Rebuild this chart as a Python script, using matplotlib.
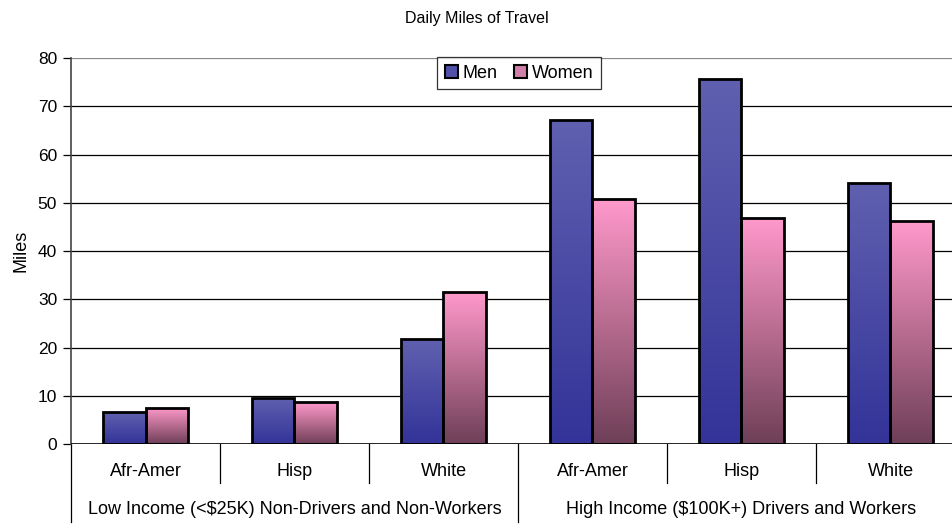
import matplotlib
matplotlib.use("Agg")
import matplotlib.pyplot as plt
import numpy as np
from matplotlib.colors import LinearSegmentedColormap
from matplotlib.lines import Line2D
from matplotlib.patches import Rectangle

plt.rcParams['font.family'] = ['Liberation Sans', 'DejaVu Sans']

title = "Daily Miles of Travel"
categories = ["Afr-Amer", "Hisp", "White", "Afr-Amer", "Hisp", "White"]
groups = ["Low Income (<$25K) Non-Drivers and Non-Workers",
          "High Income ($100K+) Drivers and Workers"]
men = [6.6, 9.5, 21.7, 67.1, 75.6, 54.0]
women = [7.5, 8.7, 31.5, 50.7, 46.8, 46.2]
series_names = ["Men", "Women"]
yticks = [0, 10, 20, 30, 40, 50, 60, 70, 80]

W, H = 953, 526
fig = plt.figure(figsize=(W / 100, H / 100), dpi=100)
left, right, top, bottom = 71, 965, 58, 444
ax = fig.add_axes([left / W, 1 - bottom / H, (right - left) / W, (bottom - top) / H])

n = len(categories)

men_cmap = LinearSegmentedColormap.from_list("m", ["#333399", "#6060b0"])
women_cmap = LinearSegmentedColormap.from_list("w", ["#6e3f58", "#b86c90", "#ff99cc"])

bw = 0.285
grad = np.linspace(0, 1, 256).reshape(-1, 1)
for i in range(n):
    for off, val, cmap in [(-bw, men[i], men_cmap), (0, women[i], women_cmap)]:
        x0 = i + 0.5 + off
        rect = Rectangle((x0, 0), bw, val, facecolor='none', edgecolor='black',
                         linewidth=2, zorder=4)
        ax.add_patch(rect)
        im = ax.imshow(grad, extent=(x0, x0 + bw, 0, val), origin='lower',
                       cmap=cmap, aspect='auto', zorder=3, interpolation='bilinear')
        im.set_clip_path(rect)

ax.set_xlim(0, n)
ax.set_ylim(0, 80)

for y in yticks[1:]:
    ax.axhline(y, color='black' if y < 80 else '#888888', linewidth=0.9, zorder=1)

for s in ['top', 'right', 'bottom']:
    ax.spines[s].set_visible(False)
ax.spines['left'].set_linewidth(1.2)
ax.spines['left'].set_color('#444444')
ax.axhline(0, color='black', linewidth=1.2, zorder=5)

ax.set_yticks(yticks)
ax.tick_params(axis='y', labelsize=12.5, length=6, width=0.9, pad=4)
ax.set_xticks([])
ax.set_ylabel("Miles", fontsize=13, labelpad=6)

# Two-level category axis
trans = ax.get_xaxis_transform()
px = 1.0 / (bottom - top)
for i in range(n):
    ax.text(i + 0.5, -(472 - bottom) * px, categories[i], transform=trans,
            ha='center', va='center', fontsize=13)
for k in range(1, n):
    if k % 3 == 0:
        continue
    ax.add_line(Line2D([k, k], [0, -(483 - bottom) * px], transform=trans,
                       color='black', linewidth=0.9, clip_on=False))
for k in [0, 3, 6]:
    ax.add_line(Line2D([k, k], [0, -(522 - bottom) * px], transform=trans,
                       color='black', linewidth=0.9, clip_on=False))
for g, name in enumerate(groups):
    ax.text(g * 3 + 1.5, -(510 - bottom) * px, name, transform=trans,
            ha='center', va='center', fontsize=13)

fig.text(477 / W, 1 - 18 / H, title, ha='center', va='center', fontsize=11.5)

handles = [Rectangle((0, 0), 1, 1, facecolor='#5050a8', edgecolor='black', linewidth=1.5),
           Rectangle((0, 0), 1, 1, facecolor='#d080a8', edgecolor='black', linewidth=1.5)]
leg = ax.legend(handles, series_names, loc='upper left',
                bbox_to_anchor=((437 - left) / (right - left), 1.002),
                ncol=2, fontsize=13, frameon=True, fancybox=False,
                handlelength=0.75, handleheight=0.75, handletextpad=0.25,
                columnspacing=0.9, borderpad=0.42, borderaxespad=0)
leg.get_frame().set_edgecolor('black')
leg.get_frame().set_linewidth(0.9)
leg.set_zorder(10)

fig.savefig("out.png", dpi=100)
